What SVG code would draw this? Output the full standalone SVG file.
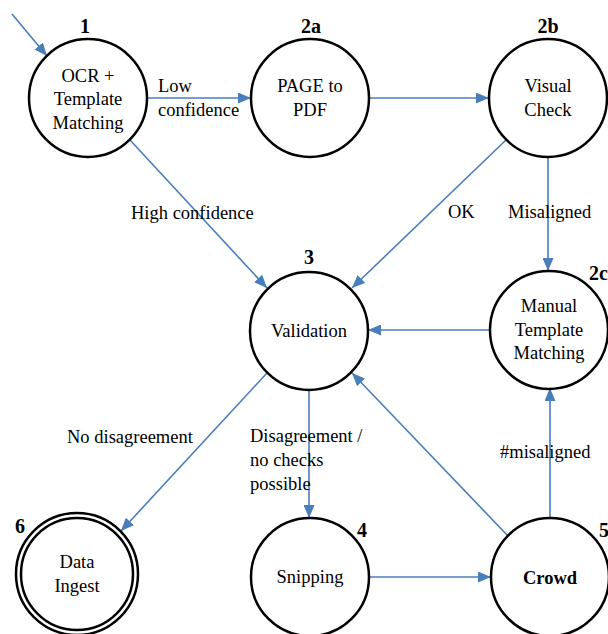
<svg xmlns="http://www.w3.org/2000/svg" width="608" height="634" viewBox="0 0 608 634">
<defs>
<marker id="arr" markerWidth="13" markerHeight="11" refX="13" refY="5.5" orient="auto" markerUnits="userSpaceOnUse">
<path d="M0,0 L13,5.5 L0,11 Z" fill="#4a7ebb"/>
</marker>
</defs>
<style>
.node circle{fill:#fff;stroke:#000;stroke-width:2.5}
.lbl{font-family:"Liberation Serif","Times New Roman","DejaVu Serif",serif;font-size:18.5px;fill:#000}
.num{font-family:"Liberation Serif","Times New Roman","DejaVu Serif",serif;font-size:20px;font-weight:bold;fill:#000}
.t{text-anchor:middle}
#edges line{stroke:#4a7ebb;stroke-width:1.6;marker-end:url(#arr)}
</style>
<rect width="608" height="634" fill="#fff"/>
<g id="edges">
<line x1="12" y1="14" x2="47" y2="56"/>
<line x1="147" y1="98" x2="251" y2="98"/>
<line x1="369" y1="98" x2="489" y2="98"/>
<line x1="130" y1="140" x2="267" y2="288"/>
<line x1="506" y1="140" x2="352" y2="288"/>
<line x1="548" y1="157" x2="548" y2="271"/>
<line x1="490" y1="330" x2="368" y2="330"/>
<line x1="267" y1="373" x2="121" y2="531"/>
<line x1="309" y1="390" x2="309" y2="518"/>
<line x1="368" y1="577" x2="491" y2="577"/>
<line x1="508" y1="536" x2="352" y2="373"/>
<line x1="550" y1="518" x2="550" y2="388"/>
</g>
<g id="edge-labels" class="lbl">
<text x="158" y="92">Low</text>
<text x="158" y="116">confidence</text>
<text x="131" y="219">High confidence</text>
<text x="448" y="218">OK</text>
<text x="508" y="218">Misaligned</text>
<text x="67" y="443">No disagreement</text>
<text x="250" y="442">Disagreement /</text>
<text x="250" y="466">no checks</text>
<text x="250" y="490">possible</text>
<text x="500" y="458">#misaligned</text>
</g>
<g id="n1" class="node">
<circle cx="88" cy="98" r="59"/>
<text class="num t" x="85" y="33">1</text>
<text class="lbl t" x="88" y="82">OCR +</text>
<text class="lbl t" x="88" y="105">Template</text>
<text class="lbl t" x="88" y="129">Matching</text>
</g>
<g id="n2a" class="node">
<circle cx="310" cy="98" r="59"/>
<text class="num t" x="311" y="33">2a</text>
<text class="lbl t" x="310" y="92">PAGE to</text>
<text class="lbl t" x="310" y="116">PDF</text>
</g>
<g id="n2b" class="node">
<circle cx="548" cy="98" r="59"/>
<text class="num t" x="548" y="33">2b</text>
<text class="lbl t" x="548" y="92">Visual</text>
<text class="lbl t" x="548" y="116">Check</text>
</g>
<g id="n3" class="node">
<circle cx="309" cy="331" r="59"/>
<text class="num t" x="309" y="264">3</text>
<text class="lbl t" x="309" y="337">Validation</text>
</g>
<g id="n2c" class="node">
<circle cx="549" cy="330" r="59"/>
<text class="num" x="589" y="280">2c</text>
<text class="lbl t" x="549" y="312">Manual</text>
<text class="lbl t" x="549" y="336">Template</text>
<text class="lbl t" x="549" y="359">Matching</text>
</g>
<g id="n6" class="node">
<circle cx="77" cy="574" r="61"/>
<circle cx="77" cy="574" r="56"/>
<text class="num t" x="20" y="533">6</text>
<text class="lbl t" x="77" y="568">Data</text>
<text class="lbl t" x="77" y="592">Ingest</text>
</g>
<g id="n4" class="node">
<circle cx="310" cy="577" r="59"/>
<text class="num t" x="362" y="537">4</text>
<text class="lbl t" x="310" y="583">Snipping</text>
</g>
<g id="n5" class="node">
<circle cx="550" cy="577" r="59"/>
<text class="num t" x="604" y="537">5</text>
<text class="lbl t" x="550" y="584" font-weight="bold">Crowd</text>
</g>
</svg>
